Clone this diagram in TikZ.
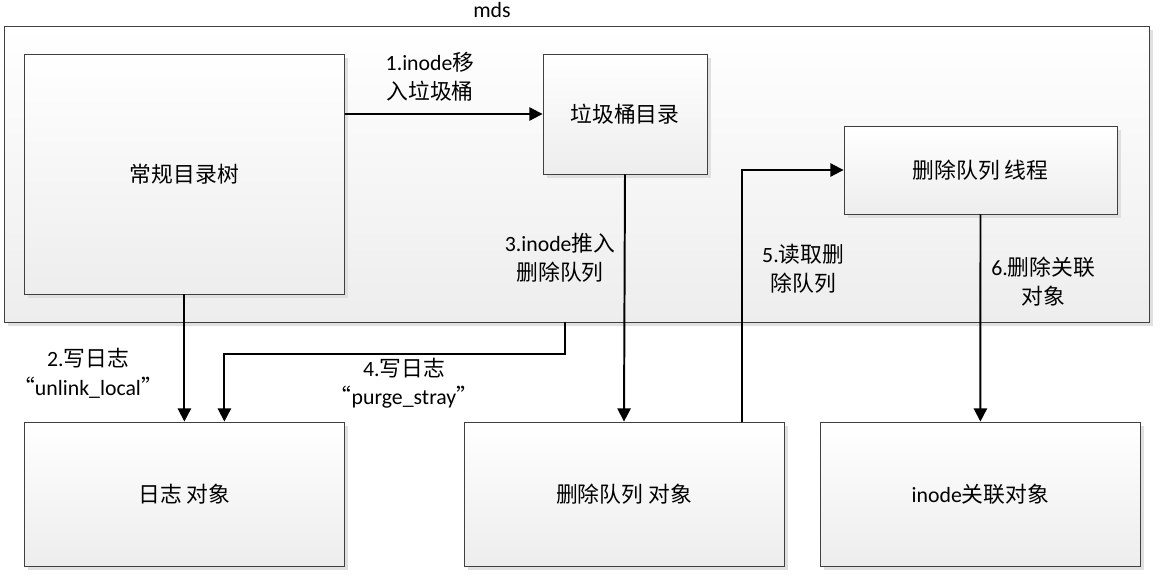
\documentclass[tikz,border=0pt]{standalone}
\usepackage{fontspec}
\setmainfont{Carlito}
\newfontfamily\cjk{Noto Sans CJK SC}
\newcommand\zh[1]{{\cjk #1}}
\usetikzlibrary{arrows.meta,shadows}

\begin{document}
\begin{tikzpicture}[x=1cm,y=-1cm,
  font=\fontsize{15.5pt}{20.6pt}\selectfont,
  box/.style={draw=black!75,line width=0.6pt,top color=white,bottom color=black!7,inner sep=0pt,
    drop shadow={shadow xshift=0.1cm,shadow yshift=-0.1cm,fill=black!12,opacity=1}},
  arr/.style={-{Triangle[length=0.33cm,width=0.33cm]},line width=1.4pt},
  lbl/.style={align=center,inner sep=0pt}]
\useasboundingbox (0,0) rectangle (29.025,14.575);
% container
\node[box,minimum width=28.625cm,minimum height=7.4cm] (mds) at (14.4125,4.35) {};
\node (mdsname) at (12.3,0.25) {mds};
% boxes
\node[box,minimum width=8cm,minimum height=6cm] (tree) at (4.61,4.35) {\zh{常规目录树}};
\node[box,minimum width=4.1cm,minimum height=3cm] (trash) at (15.625,2.85) {\zh{垃圾桶目录}};
\node[box,minimum width=6.825cm,minimum height=2.2cm] (thread) at (24.5125,4.25) {\zh{删除队列 线程}};
\node[box,minimum width=8cm,minimum height=3.6cm] (log) at (4.61,12.35) {\zh{日志 对象}};
\node[box,minimum width=8cm,minimum height=3.6cm] (queue) at (15.6,12.35) {\zh{删除队列 对象}};
\node[box,minimum width=8cm,minimum height=3.6cm] (inode) at (24.51,12.35) {inode\zh{关联对象}};
\coordinate (c4) at (14.125,8.05);
% arrows
\draw[arr] (tree.east |- trash.west) -- (trash.west);
\draw[arr] (tree.south) -- (log.north);
\draw[arr] (trash.south) -- (queue.north);
\draw[arr] (c4) -- ++(0,0.8) -| ([xshift=1cm]log.north);
\draw[arr] ([xshift=2.95cm]queue.north) |- (thread.west);
\draw[arr] (thread.south) -- (inode.north);
% labels
\node[lbl] (l1) at (10.75,1.93) {1.inode\zh{移}\\\zh{入垃圾桶}};
\node[lbl] (l2) at (2.2,9.33) {2.\zh{写日志}\\\zh{“}unlink\_local\zh{”}};
\node[lbl] (l3) at (14.0,6.45) {3.inode\zh{推入}\\\zh{删除队列}};
\node[lbl] (l4) at (10.1,9.58) {4.\zh{写日志}\\\zh{“}purge\_stray\zh{”}};
\node[lbl] (l5) at (20.08,6.72) {5.\zh{读取删}\\\zh{除队列}};
\node[lbl] (l6) at (26.08,7.05) {6.\zh{删除关联}\\\zh{对象}};
\end{tikzpicture}
\end{document}
